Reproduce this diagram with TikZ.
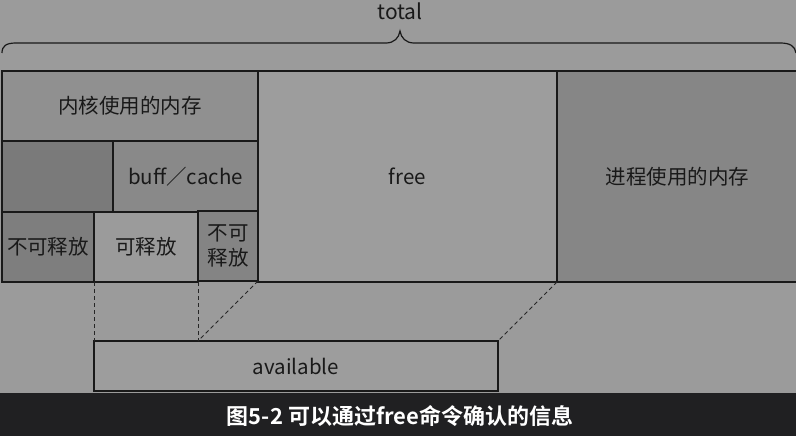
\documentclass[tikz,border=0pt]{standalone}
\usepackage{fontspec}
\setmainfont{Noto Sans CJK SC}
\newfontfamily\capfont{Noto Sans CJK SC Bold}
\begin{document}
\begin{tikzpicture}[x=1pt,y=-1pt,
  box/.style={draw=black!90, line width=1.5pt, inner sep=0pt, outer sep=0pt, font=\fontsize{20.5}{24}\selectfont, text=black!90},
  guide/.style={draw=black!85, line width=0.9pt, dash pattern=on 4pt off 3pt}]
\fill[fill={rgb,255:red,155;green,155;blue,155}] (0,0) rectangle (796,436);
\useasboundingbox (0,0) rectangle (796,436);
\fill[fill={rgb,255:red,32;green,32;blue,34}] (0,393) rectangle (796,436);
% total and brace
\node[font=\fontsize{21}{24}\selectfont, text=black!90] (total) at (400,11) {total};
\draw[line width=1.2pt, black!90] (2,53) .. controls (2,46) and (6,43) .. (16,43) -- (386,43)
  .. controls (394,43) and (399,38) .. (400,31) .. controls (401,38) and (406,43) .. (414,43)
  -- (780,43) .. controls (790,43) and (795,46) .. (796,53);
% boxes
\node[box, fill={rgb,255:red,144;green,144;blue,144}, minimum width=256pt, minimum height=70pt] (kern) at (130,106) {内核使用的内存};
\node[box, fill={rgb,255:red,122;green,122;blue,122}, minimum width=111pt, minimum height=71pt] (dark) at (57.5,176.5) {};
\node[box, fill={rgb,255:red,137;green,137;blue,137}, minimum width=145pt, minimum height=71pt] (buff) at (185.5,176.5) {buff／cache};
\node[box, fill={rgb,255:red,126;green,126;blue,126}, minimum width=92pt, minimum height=70pt] (nr1) at (48,247) {不可释放};
\node[box, fill={rgb,255:red,155;green,155;blue,155}, minimum width=104pt, minimum height=70pt] (rel) at (146,247) {可释放};
\node[box, fill={rgb,255:red,132;green,132;blue,132}, minimum width=60pt, minimum height=70pt, align=center, font=\fontsize{20.5}{25}\selectfont] (nr2) at (228,246) {不可\\释放};
\node[box, fill={rgb,255:red,157;green,157;blue,157}, minimum width=299pt, minimum height=211pt] (free) at (407.5,176.5) {free};
\node[box, fill={rgb,255:red,134;green,134;blue,134}, minimum width=241pt, minimum height=211pt] (proc) at (677.5,176.5) {进程使用的内存};
\node[box, fill={rgb,255:red,157;green,157;blue,157}, minimum width=404pt, minimum height=50pt] (avail) at (296,366) {available};
% guides
\coordinate (a2) at (198,341);
\draw[guide] (rel.south west) -- (avail.north west);
\draw[guide] (rel.south east) -- (a2);
\draw[guide] (nr2.south east) -- (a2);
\draw[guide] (proc.south west) -- (avail.north east);
% caption
\node[font=\capfont\fontsize{22}{26}\selectfont, text=white] (cap) at (400,416) {图5-2 可以通过free命令确认的信息};
\end{tikzpicture}
\end{document}
